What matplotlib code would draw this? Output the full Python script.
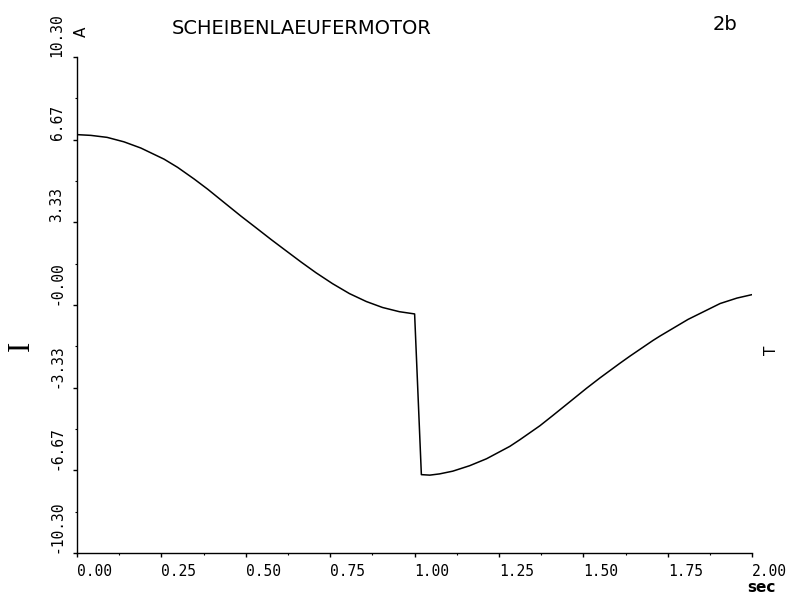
import matplotlib
matplotlib.use("Agg")
import matplotlib.pyplot as plt
import numpy as np

# Zeit (sec) und Strom I (A)
t_sec = [0.0, 0.041, 0.089, 0.139, 0.189, 0.258, 0.298, 0.347, 0.387, 0.436,
         0.486, 0.525, 0.575, 0.614, 0.664, 0.708, 0.757, 0.807, 0.857, 0.905, 0.955,
         1.0, 1.02, 1.045, 1.074, 1.113, 1.163, 1.213, 1.282, 1.312, 1.371, 1.409,
         1.46, 1.509, 1.549, 1.608, 1.638, 1.706, 1.727, 1.81, 1.905, 1.955, 2.0]
current = [6.87, 6.84, 6.76, 6.58, 6.33, 5.88, 5.55, 5.08, 4.67, 4.13,
           3.58, 3.17, 2.64, 2.24, 1.73, 1.30, 0.86, 0.46, 0.14, -0.10, -0.27,
           -0.36, -6.84, -6.86, -6.81, -6.70, -6.48, -6.20, -5.70, -5.43, -4.87, -4.46,
           -3.90, -3.36, -2.94, -2.35, -2.06, -1.43, -1.25, -0.58, 0.06, 0.28, 0.42]

x_ticks = [0.0, 0.25, 0.5, 0.75, 1.0, 1.25, 1.5, 1.75, 2.0]
x_labels = ["0.00", "0.25", "0.50", "0.75", "1.00", "1.25", "1.50", "1.75", "2.00"]
y_ticks = [-10.0, -6.67, -3.33, 0.0, 3.33, 6.67, 10.0]
y_labels = ["-10.30", "-6.67", "-3.33", "-0.00", "3.33", "6.67", "10.30"]

fig = plt.figure(figsize=(7.86, 5.97), dpi=100)
ax = fig.add_axes([0.098, 0.0737, 0.859, 0.8308])

ax.plot(t_sec, current, color="black", lw=1.1)

ax.set_xlim(0, 2.0)
ax.set_ylim(-10, 10)
for s in ["top", "right"]:
    ax.spines[s].set_visible(False)
for s in ["left", "bottom"]:
    ax.spines[s].set_linewidth(1.0)

ax.set_xticks(x_ticks)
ax.set_xticklabels(x_labels, family="DejaVu Sans Mono", fontsize=10.5, ha="left")
ax.set_yticks(y_ticks)
ax.set_yticklabels(y_labels, family="DejaVu Sans Mono", fontsize=10.5,
                   rotation=90, va="bottom")
ax.set_xticks(np.arange(0.125, 2.0, 0.25), minor=True)
ax.set_yticks([-8.33, -5.0, -1.67, 1.67, 5.0, 8.33], minor=True)
ax.tick_params(axis="x", which="major", length=3, width=1, pad=5)
ax.tick_params(axis="y", which="major", length=3, width=1, pad=6)
ax.tick_params(which="minor", length=1.5, width=0.8)

fig.text(302 / 786, 1 - 28 / 597, "SCHEIBENLAEUFERMOTOR", fontsize=14,
         ha="center", va="center")
fig.text(725 / 786, 1 - 25 / 597, "2b", fontsize=14, ha="center", va="center")
fig.text(81 / 786, 1 - 32 / 597, "A", fontsize=11, rotation=90,
         ha="center", va="center")
fig.text(21 / 786, 1 - 346 / 597, "I", fontsize=22, family="Liberation Serif",
         rotation=90, ha="center", va="center")
fig.text(772 / 786, 1 - 350 / 597, "T", fontsize=11, rotation=90,
         ha="center", va="center")
fig.text(761 / 786, 1 - 588 / 597, "sec", fontsize=11, fontweight="bold",
         ha="center", va="center")

fig.savefig("out.png", dpi=100)
